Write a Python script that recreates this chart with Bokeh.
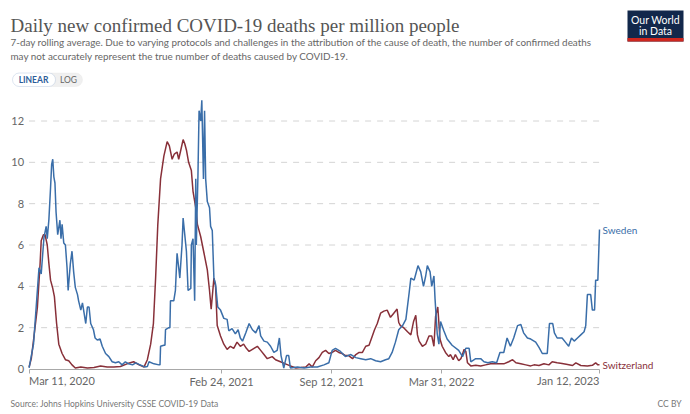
from datetime import datetime, timedelta
from bokeh.plotting import figure
from bokeh.core.properties import value
from bokeh.models import (Range1d, FixedTicker, Label, BoxAnnotation, DatetimeAxis,
                          DatetimeTickFormatter)
from bokeh.embed import file_html
from bokeh.resources import INLINE

START = datetime(2020, 3, 11)
END = datetime(2023, 1, 12)

# days since Mar 11, 2020 and daily confirmed deaths per million (7-day avg)
sweden_day = [0, 8, 18, 22, 27, 31, 33, 36, 39, 41, 43, 45, 47, 49, 52, 56, 58, 60, 63, 66,
              69, 71, 75, 78, 81, 84, 88, 90, 94, 97, 100, 103, 106, 109, 112, 117, 120, 124, 129, 133,
              139, 145, 151, 157, 163, 169, 175, 181, 188, 194, 200, 206, 210, 215, 218, 227, 236, 238, 239, 245,
              247, 248, 254, 256, 257, 263, 266, 269, 272, 274, 278, 280, 283, 286, 289, 294, 295, 298, 301, 303,
              304, 307, 309, 312, 314, 317, 319, 321, 324, 328, 330, 333, 336, 339, 343, 348, 354, 360, 363, 369,
              375, 380, 384, 388, 394, 400, 406, 412, 418, 421, 427, 433, 439, 445, 451, 455, 458, 463, 468, 472,
              475, 488, 500, 512, 524, 536, 545, 551, 557, 566, 575, 585, 594, 603, 612, 621, 630, 639, 648, 654,
              660, 666, 672, 679, 685, 691, 694, 700, 703, 707, 712, 717, 721, 724, 729, 732, 736, 738, 742, 745,
              748, 754, 760, 769, 781, 788, 794, 800, 803, 812, 821, 827, 834, 842, 850, 856, 863, 869, 875, 881,
              888, 894, 899, 906, 912, 921, 927, 933, 942, 946, 952, 955, 960, 969, 975, 981, 986, 991, 997, 1003,
              1009, 1012, 1015, 1021, 1024, 1028, 1030, 1034, 1037]
sweden_val = [0.05, 1.2, 4.9, 4.6, 6.35, 6.9, 6.3, 7.24, 8.77, 9.9, 10.15, 9.3, 9.0, 7.6, 6.5, 7.2, 6.3, 7.0, 6.1, 6.0,
              4.9, 3.8, 5.1, 5.7, 4.7, 3.95, 3.6, 3.3, 2.85, 3.2, 2.7, 2.2, 3.0, 3.0, 2.2, 1.9, 1.5, 1.4, 1.45, 1.1,
              0.75, 0.6, 0.35, 0.3, 0.35, 0.2, 0.35, 0.25, 0.2, 0.3, 0.22, 0.15, 0.1, 0.12, 0.35, 0.25, 0.2, 0.2, 1.1, 1.15,
              1.15, 1.9, 2.0, 2.0, 3.3, 3.3, 3.8, 5.6, 4.9, 4.4, 6.0, 7.3, 6.5, 5.7, 3.8, 3.9, 6.0, 6.3, 3.3, 9.2,
              6.0, 9.4, 12.5, 12.0, 13.0, 9.2, 12.5, 9.2, 8.1, 7.8, 6.9, 6.7, 4.4, 4.1, 3.0, 2.85, 2.45, 2.4, 1.85, 1.95,
              1.7, 1.9, 1.5, 1.35, 1.75, 2.2, 1.9, 1.75, 2.1, 1.6, 1.35, 1.3, 1.1, 0.8, 0.9, 1.5, 0.65, 0.05, 0.65, 0.65,
              0.05, 0.1, 0.05, 0.1, 0.1, 0.2, 0.3, 0.9, 1.0, 0.85, 0.6, 0.7, 0.55, 0.5, 0.45, 0.5, 0.4, 0.35, 0.45, 0.5,
              0.8, 1.3, 1.9, 2.1, 2.4, 3.7, 4.4, 4.3, 4.6, 5.0, 4.7, 4.0, 4.5, 5.0, 4.7, 4.0, 4.5, 3.4, 1.7, 1.2,
              2.3, 1.85, 1.45, 1.15, 0.9, 0.6, 1.0, 1.0, 0.35, 0.5, 0.5, 0.35, 0.3, 0.35, 0.3, 0.8, 0.8, 1.5, 1.1, 1.5,
              2.1, 2.15, 1.75, 1.5, 1.45, 1.3, 1.05, 0.75, 0.75, 2.2, 2.2, 1.75, 1.5, 1.5, 1.3, 1.1, 1.5, 1.35, 1.5, 1.65,
              1.8, 2.1, 3.6, 3.6, 2.85, 2.85, 4.3, 4.3, 6.75]

switz_day = [0, 4, 9, 15, 20, 22, 26, 29, 33, 36, 39, 43, 46, 50, 54, 60, 66, 72, 78, 84,
             94, 106, 118, 130, 142, 154, 166, 178, 190, 200, 209, 215, 221, 226, 230, 234, 239, 245, 251, 255,
             260, 264, 269, 272, 275, 280, 283, 286, 290, 295, 298, 303, 306, 312, 318, 324, 328, 331, 336, 339,
             342, 348, 354, 360, 366, 372, 378, 384, 390, 395, 400, 406, 415, 421, 427, 433, 442, 448, 457, 466,
             475, 485, 494, 503, 509, 515, 521, 527, 533, 539, 545, 551, 557, 563, 569, 575, 581, 588, 594, 600,
             606, 612, 618, 624, 628, 633, 639, 645, 651, 657, 663, 669, 672, 675, 681, 688, 694, 699, 703, 706,
             709, 715, 721, 727, 732, 736, 739, 743, 747, 751, 757, 763, 766, 771, 775, 781, 785, 791, 794, 797,
             803, 812, 821, 830, 839, 851, 863, 872, 879, 885, 894, 903, 912, 918, 927, 936, 945, 951, 960, 969,
             979, 988, 994, 1003, 1015, 1024, 1030, 1034, 1037]
switz_val = [0.1, 0.5, 1.6, 2.97, 5.1, 6.2, 6.5, 6.5, 6.0, 5.1, 4.3, 3.9, 3.5, 2.2, 1.2, 0.75, 0.45, 0.4, 0.2, 0.05,
             0.1, 0.05, 0.07, 0.15, 0.1, 0.1, 0.12, 0.25, 0.35, 0.2, 0.1, 0.45, 1.2, 2.2, 4.4, 7.0, 9.2, 10.3, 11.0, 10.8,
             10.15, 10.4, 10.5, 10.15, 10.5, 11.1, 10.9, 10.6, 10.0, 9.6, 8.6, 7.8, 7.0, 6.4, 5.6, 4.8, 3.8, 2.9, 4.4, 4.0,
             2.1, 1.6, 1.2, 0.95, 1.1, 1.0, 1.3, 1.1, 1.2, 1.0, 0.85, 0.95, 1.1, 0.9, 0.7, 0.5, 0.6, 0.45, 0.35, 0.25,
             0.15, 0.05, 0.07, 0.1, 0.25, 0.1, 0.4, 0.55, 0.8, 0.9, 0.75, 0.8, 0.9, 0.8, 0.75, 0.65, 0.65, 0.5, 0.7, 0.8,
             0.8, 1.1, 1.15, 1.6, 1.9, 2.2, 2.7, 2.8, 2.85, 2.5, 2.7, 2.9, 2.25, 2.1, 2.0, 1.8, 1.65, 2.3, 2.6, 1.65,
             1.35, 1.1, 1.2, 1.6, 1.6, 1.1, 2.55, 3.0, 1.45, 1.1, 0.8, 0.6, 0.7, 0.45, 0.7, 0.4, 0.5, 0.95, 0.85, 0.3,
             0.15, 0.18, 0.15, 0.2, 0.25, 0.25, 0.25, 0.35, 0.45, 0.3, 0.25, 0.2, 0.15, 0.2, 0.17, 0.25, 0.2, 0.35, 0.3, 0.27,
             0.22, 0.17, 0.3, 0.17, 0.15, 0.18, 0.3, 0.2, 0.2]

y_ticks = [0, 2, 4, 6, 8, 10, 12]
x_tick_dates = [datetime(2020, 3, 11), datetime(2021, 2, 24), datetime(2021, 9, 12),
                datetime(2022, 3, 31), datetime(2023, 1, 12)]
x_tick_labels = ["Mar 11, 2020", "Feb 24, 2021", "Sep 12, 2021", "Mar 31, 2022", "Jan 12, 2023"]

SWE_COLOR = "#3a6ea9"
SUI_COLOR = "#883039"
TXT = "#666666"
GRID = "#d4d4d4"

EPOCH = datetime(1970, 1, 1)
DAY_MS = 86400000.0


def ms(dt):
    return (dt - EPOCH).total_seconds() * 1000.0


# The frame covers the whole canvas; the chart area is the sub-region
# x: Mar 11 2020 -> px 28.6, Jan 12 2023 -> px 599 ; y: 0 -> px 368.5, 12 -> px 120.5
W, H = 690, 414
PX_X0, PX_X1 = 28.6, 599.0
PX_Y0, PX_PER_UNIT = 368.5, 248.0 / 12.0
DAYS = (END - START).days
PX_PER_DAY = (PX_X1 - PX_X0) / DAYS


def xd(px):  # canvas px -> data x (ms)
    return ms(START) + (px - PX_X0) / PX_PER_DAY * DAY_MS


def yd(py):  # canvas px (from top) -> data y
    return (PX_Y0 - py) / PX_PER_UNIT


p = figure(width=W, height=H, output_backend="svg", toolbar_location=None,
           x_axis_type="datetime",
           x_range=Range1d(xd(0), xd(W)), y_range=Range1d(yd(H), yd(0)),
           min_border=0, min_border_left=0, min_border_right=0, min_border_top=0, min_border_bottom=0)
p.title.visible = False
p.outline_line_color = None
p.background_fill_color = "white"
p.border_fill_color = "white"

# dashed grid lines across the chart area only
p.xgrid.grid_line_color = None
p.ygrid.grid_line_color = None
grid_y = y_ticks[1:]
p.multi_line(xs=[[ms(START), ms(END)] for _ in grid_y], ys=[[gy, gy] for gy in grid_y],
             line_color=GRID, line_width=1, line_dash=value("dashed"), line_dash_offset=0)

# y axis, fixed at the start date
p.yaxis.fixed_location = ms(START)
p.yaxis.ticker = FixedTicker(ticks=y_ticks)
p.yaxis.bounds = (0, 12)
p.yaxis.axis_line_color = None
p.yaxis.major_tick_line_color = None
p.yaxis.minor_tick_line_color = None
p.yaxis.major_tick_out = 0
p.yaxis.major_label_text_font = "Lato"
p.yaxis.major_label_text_font_size = "11px"
p.yaxis.major_label_text_color = TXT
p.yaxis.major_label_standoff = 5

# x axis, fixed at y = 0 ; middle tick labels from the axis
mid = slice(1, len(x_tick_dates) - 1)
p.xaxis.fixed_location = 0
p.xaxis.bounds = (ms(START), ms(END))
p.xaxis.ticker = FixedTicker(ticks=[ms(d) for d in x_tick_dates[mid]])
p.xaxis.formatter = DatetimeTickFormatter(days="%b %d, %Y", months="%b %d, %Y", years="%b %d, %Y")
p.xaxis.major_label_overrides = {ms(d): t for d, t in zip(x_tick_dates[mid], x_tick_labels[mid])}
p.xaxis.axis_line_color = "#a8a8a8"
p.xaxis.major_tick_line_color = "#a8a8a8"
p.xaxis.major_tick_out = 4
p.xaxis.major_tick_in = 0
p.xaxis.minor_tick_line_color = None
p.xaxis.major_label_standoff = 2
p.xaxis.major_label_text_font = "Lato"
p.xaxis.major_label_text_font_size = "11px"
p.xaxis.major_label_text_color = TXT

# extra axis carrying only the end tick marks (their labels are aligned to the ends below)
end_axis = DatetimeAxis(fixed_location=0, bounds=(ms(START), ms(END)),
                        ticker=FixedTicker(ticks=[ms(x_tick_dates[0]), ms(x_tick_dates[-1])]),
                        axis_line_color=None, major_tick_line_color="#a8a8a8",
                        major_tick_out=4, major_tick_in=0, minor_tick_line_color=None,
                        major_label_text_color=None)
p.add_layout(end_axis, "below")

sw_x = [START + timedelta(days=d) for d in sweden_day]
sz_x = [START + timedelta(days=d) for d in switz_day]
p.line(sz_x, switz_val, line_color=SUI_COLOR, line_width=1.5)
p.line(sw_x, sweden_val, line_color=SWE_COLOR, line_width=1.5)


def lab(text, px, py, size, color, font="Lato", align="left", baseline="middle", xdata=None,
        style="normal"):
    p.add_layout(Label(x=xd(px) if xdata is None else xdata, y=yd(py), text=text, text_font=font,
                       text_font_size=f"{size}px", text_color=color, text_font_style=style,
                       text_align=align, text_baseline=baseline))


# end tick labels, aligned to the chart edges
lab(x_tick_labels[0], 0, 380, 11, TXT, align="left", xdata=ms(x_tick_dates[0]))
lab(x_tick_labels[-1], 0, 380, 11, TXT, align="right", xdata=ms(x_tick_dates[-1]))

# series labels
p.add_layout(Label(x=ms(END), y=sweden_val[-1], x_offset=3, text="Sweden", text_font="Lato",
                   text_font_size="10px", text_color=SWE_COLOR, text_baseline="middle"))
p.add_layout(Label(x=ms(END), y=switz_val[-1], x_offset=3, text="Switzerland", text_font="Lato",
                   text_font_size="10px", text_color=SUI_COLOR, text_baseline="middle"))

# title & subtitle
lab("Daily new confirmed COVID-19 deaths per million people", 10, 25, 19, "#555555",
    font="Liberation Serif", baseline="alphabetic")
lab("7-day rolling average. Due to varying protocols and challenges in the attribution of the cause of death, "
    "the number of confirmed deaths", 10, 41.5, 9.9, TXT, baseline="alphabetic")
lab("may not accurately represent the true number of deaths caused by COVID-19.", 10, 55.5, 9.9, TXT,
    baseline="alphabetic")

# LINEAR / LOG toggle
has_radius = "border_radius" in BoxAnnotation.properties()
log_box = dict(left=xd(45), right=xd(82), top=yd(72.5), bottom=yd(86),
               fill_color="#f0f0f0", fill_alpha=1, line_color="#e2e2e2", line_width=1)
lin_box = dict(left=xd(12), right=xd(55), top=yd(72.5), bottom=yd(86),
               fill_color="white", fill_alpha=1, line_color="#8fa9cc", line_width=1)
if has_radius:
    log_box["border_radius"] = 7
    lin_box["border_radius"] = 7
p.add_layout(BoxAnnotation(**log_box))
p.add_layout(BoxAnnotation(**lin_box))
lab("LINEAR", 33, 79.5, 8.5, "#2c5d9a", align="center", style="bold")
lab("LOG", 68, 79.5, 8.5, TXT, align="center")

# logo
p.add_layout(BoxAnnotation(left=xd(627), right=xd(683), top=yd(10), bottom=yd(41),
                           fill_color="#12284b", fill_alpha=1, line_color=None))
p.add_layout(BoxAnnotation(left=xd(627), right=xd(683), top=yd(37.5), bottom=yd(41),
                           fill_color="#ce261e", fill_alpha=1, line_color=None))
lab("Our World", 655, 19.5, 10.5, "white", align="center")
lab("in Data", 655, 30, 10.5, "white", align="center")

# footer
lab("Source: Johns Hopkins University CSSE COVID-19 Data", 10, 403, 8.5, "#777777")
lab("CC BY", 681, 403, 8.5, "#777777", align="right")

open("out.html", "w").write(file_html(p, INLINE))
